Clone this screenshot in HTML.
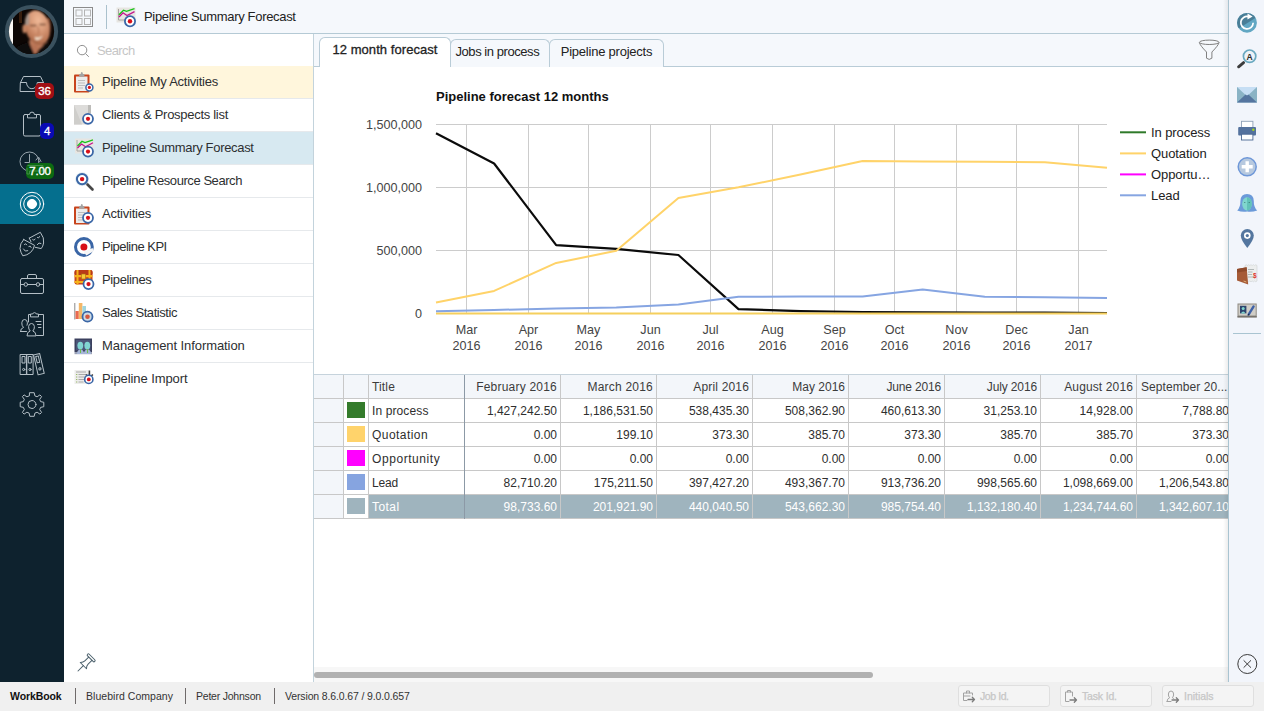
<!DOCTYPE html>
<html lang="en">
<head>
<meta charset="utf-8">
<title>WorkBook - Pipeline Summary Forecast </title>
<style>
*{box-sizing:border-box;margin:0;padding:0}
html,body{width:1264px;height:711px;overflow:hidden;background:#fff}
body{position:relative;font-family:"Liberation Sans",sans-serif;font-size:12.5px;color:#2f3133}
.abs{position:absolute}
/* dark left rail */
#rail{left:0;top:0;width:64px;height:682px;background:#0e222e}
#rail .active{left:0;top:184px;width:64px;height:40px;background:#056f8e}
#rail svg{position:absolute;overflow:visible}
.badge{position:absolute;color:#fff;font-size:11.5px;-webkit-text-stroke:.35px #fff;line-height:15px;height:15px;border-radius:5px;text-align:center;letter-spacing:-.2px}
/* header */
#header{left:64px;top:0;width:1165px;height:34px;background:#f5f8fc;border-bottom:1px solid #b5cad5}
#header .title{left:80px;top:9px;font-size:13px;color:#222;white-space:nowrap;line-height:16px}
/* menu */
#menu{left:64px;top:34px;width:250px;height:648px;background:#fff;border-right:1px solid #c3d3dc}
#menu .search{left:33px;top:9px;color:#c6c6c6;font-size:13px;line-height:16px}
.mi{position:absolute;left:0;width:249px;height:33px;border-bottom:1px solid #e6e9ec;font-size:13px;line-height:16px;color:#2d2f31;white-space:nowrap}
.mi>span{position:absolute;left:38px;top:8px}
.mi svg{position:absolute;left:9px;top:5px}
/* main */
#main{left:314px;top:34px;width:914px;height:648px;background:#fff}
#tabbar{left:0;top:0;width:914px;height:33px;background:#f5f8fc;border-bottom:1px solid #b9ccd7}
.tab{position:absolute;top:5px;height:28px;border:1px solid #b9ccd7;border-bottom:none;border-radius:6px 6px 0 0;background:#f5f8fc;font-size:13px;line-height:16px;text-align:center;white-space:nowrap;color:#222}
.tab.on::after{content:'';position:absolute;left:0;right:0;bottom:-1px;height:1px;background:#fff}
.tab.on{top:3px;height:30px;background:#fff;z-index:2;font-size:13px;-webkit-text-stroke:0.3px #222}
/* table */
#grid{left:0;top:340px;width:914px;height:145px;overflow:hidden;border-top:1px solid #c6d3dc}
#grid .row{position:absolute;left:0;height:24px;width:930px;border-bottom:1px solid #c8c8c8}
#grid .c{position:absolute;top:0;height:23px;border-right:1px solid #c8c8c8;font-size:12px;line-height:25px;white-space:nowrap;overflow:hidden;color:#2e2e2e}
#grid .n{text-align:right;padding-right:3px;width:96px}
#grid .hd .c{background:#f3f6fa;color:#3c3c3c}
#grid .fz{border-right-color:#8c99a6}
#grid .fzl{position:absolute;left:150px;top:0;width:1px;height:144px;background:#8c99a6}
.sw{position:absolute;left:3px;top:3px;width:18px;height:16px}
/* right bar */
#rbar{left:1228px;top:0;width:36px;height:682px;background:#f2f5fb;border-left:1px solid #a9c4d1}
#rsh{left:1223px;top:0;width:5px;height:682px;background:linear-gradient(to right,rgba(0,0,0,0),rgba(0,0,0,.07))}
#rbar svg{position:absolute}
/* status */
#status{left:0;top:682px;width:1264px;height:29px;background:#f0f0f0;font-size:10.5px;color:#333}
#status .t{position:absolute;top:8px;line-height:13px;white-space:nowrap}
#status .sep{position:absolute;top:6px;width:1px;height:16px;background:#6f6a6a}
.inp{position:absolute;top:3px;width:92px;height:22px;border:1px solid #dfdfdf;border-radius:3px;background:#f4f4f4;color:#c6c6c6;font-size:10.5px;line-height:21px;padding-left:21px;-webkit-text-stroke:.25px #c6c6c6}
</style>
</head>
<body>

<!-- LEFT RAIL -->
<div id="rail" class="abs">
  <div class="active abs"></div>
<svg width="64" height="682" viewBox="0 0 64 682" style="left:0;top:0" fill="none" stroke="#b4bfc6" stroke-width="1" stroke-linejoin="round" stroke-linecap="round">
  <!-- avatar -->
  <defs>
    <clipPath id="avc"><circle cx="31.5" cy="31.5" r="22.6"/></clipPath>
    <filter id="bl" x="-20%" y="-20%" width="140%" height="140%"><feGaussianBlur stdDeviation="0.8"/></filter>
    <radialGradient id="skin" cx="0.6" cy="0.3" r="0.8">
      <stop offset="0" stop-color="#efb997"/><stop offset="0.4" stop-color="#d99a78"/><stop offset="0.75" stop-color="#bb7755"/><stop offset="1" stop-color="#8d5239"/>
    </radialGradient>
  </defs>
  <circle cx="31.5" cy="31.5" r="26.6" fill="#3a515e" stroke="none"/>
  <g clip-path="url(#avc)" stroke="none">
    <rect x="5" y="5" width="54" height="54" fill="#0c0604"/>
    <rect x="19" y="9" width="3" height="14" fill="#4a2a12" opacity=".7"/>
    <rect x="8" y="18" width="5" height="26" fill="#fbf9f6"/>
    <g filter="url(#bl)">
      <path d="M29 40 L33 55 L40 54 L45 40 Z" fill="#c07c5c"/>
      <path d="M12 60 L17 47 Q23 43 29 42 L35 55 L38 50 L47 42 Q55 45 57 60 Z" fill="#0b0a0a"/>
      <path d="M30 44 L35 55 L38.5 50 L37.5 45 Z" fill="#b87354"/>
      <ellipse cx="37.6" cy="27.6" rx="12.2" ry="17.6" fill="url(#skin)" transform="rotate(-14 37.6 27.6)"/>
      <ellipse cx="24.4" cy="28.8" rx="2" ry="4.4" fill="#c48462"/>
      <path d="M25 25 Q24.5 17 28.5 12.5 Q30 16 28.8 25 Z" fill="#a69489"/>
      <path d="M30.5 25.6 h5.4 M40 24.6 h5.2" stroke="#70452f" stroke-width="1.5"/>
      <path d="M38 27 Q39.6 32 38.4 34" stroke="#b06d4e" stroke-width="1" fill="none"/>
      <path d="M34.6 36.8 Q38.6 39.3 42.8 35.6 Q40.4 40.8 35.6 39.8 Z" fill="#f8ead6"/>
      <path d="M46.5 18 Q51 25 48.5 38 Q52.5 28 49.5 18Z" fill="#8d5239"/>
    </g>
  </g>
  <!-- inbox -->
  <path d="M20.5 82.5 L23.5 76.5 H40.5 L43.5 82.5 V91.5 H20.5 Z"/>
  <path d="M20.5 82.5 H26.5 A5.4 6.2 0 0 0 37.3 82.5 H43.5"/>
  <!-- clipboard -->
  <rect x="23.5" y="114.5" width="17" height="21.5" rx="1.5"/>
  <path d="M27.5 117.5 V114.5 H29.6 A2.4 2.4 0 0 1 34.4 114.5 H36.5 V117.5 Z" fill="#0e222e"/>
  <!-- clock -->
  <circle cx="29.5" cy="161.5" r="9.5" stroke="#9aa7af"/>
  <path d="M29.5 154.5 V162.5 H25" stroke="#9aa7af"/>
  <path d="M36 160 L38.5 157 L41 161.5" stroke="#9aa7af"/>
  <!-- target (active) -->
  <g stroke="#fff">
    <circle cx="32" cy="204" r="11.7"/>
    <circle cx="32" cy="204" r="8.3"/>
    <circle cx="32" cy="204" r="4.6" fill="#fff"/>
  </g>
  <!-- masks -->
  <path d="M29.3 238.1 L40.3 232.3 Q44.6 238 43.6 243 Q43 246.6 41.2 248.6 L35.2 247.3"/>
  <path d="M29.3 238.1 L31 241.8"/>
  <path d="M32.6 239.6 Q33.8 241.3 35.2 239.2 M37.4 237.6 Q38.8 239 39.6 236.6 M37.3 244.6 Q38.6 241.8 41 243.4"/>
  <path d="M23.7 239.5 L34.5 245.3 Q33.6 249.6 30.6 252.4 Q27 255.4 22.8 255.8 Q20.6 252.4 20 248.6 Q19.8 243.6 23.7 239.5 Z"/>
  <path d="M24.4 244.4 Q25.8 242.6 26.8 244.8 M28.8 246.4 Q30.4 245 31.2 247.4 M23.4 249 Q24.8 252.4 27.8 250.8"/>
  <!-- briefcase -->
  <rect x="20.5" y="278.5" width="23" height="15" rx="1.5"/>
  <path d="M27.5 278.5 V276 Q27.5 274.5 29 274.5 H35 Q36.5 274.5 36.5 276 V278.5"/>
  <path d="M20.5 284.5 H24 M27.6 284.5 H36.2 M39.8 284.5 H43.5"/>
  <circle cx="25.8" cy="284.5" r="1.8"/><circle cx="38" cy="284.5" r="1.8"/>
  <!-- people + clipboard -->
  <path d="M28.5 322 V314.5 H30.5 M38.5 314.5 H43.5 V335.5 H36.5"/>
  <path d="M30.5 316.5 V314 H32.6 A2 2 0 0 1 36.4 314 H38.5 V316.5 Z"/>
  <path d="M36 321.5 H41 M37.5 324.5 H41 M38.5 327.5 H41" />
  <path d="M20.5 331.5 Q20.5 328.2 23.5 327.5 Q21.6 325.6 21.8 322.8 Q22 319.5 24.6 319.5 Q27.2 319.5 27.4 322.8 Q27.5 324 27 325.2 M20.5 331.5 H26.5"/>
  <path d="M27 335.5 Q27 331.8 30.2 331 Q28.4 329.2 28.6 326.6 Q28.8 323.5 31.5 323.5 Q34.2 323.5 34.4 326.6 Q34.6 329.2 32.8 331 Q36 331.8 36 335.5 Z"/>
  <!-- binders -->
  <rect x="20.5" y="354.5" width="6.3" height="20"/>
  <rect x="26.8" y="354.5" width="6.3" height="20"/>
  <rect x="22.4" y="356.5" width="2.6" height="6.5"/><rect x="28.7" y="356.5" width="2.6" height="6.5"/>
  <circle cx="23.7" cy="369.5" r="1.1"/><circle cx="30" cy="369.5" r="1.1"/>
  <g transform="rotate(-13 39 364)">
    <rect x="35.7" y="354" width="6.3" height="20.3"/>
    <rect x="37.5" y="356" width="2.6" height="6.5"/><circle cx="38.8" cy="369" r="1.1"/>
  </g>
  <!-- gear -->
  <g transform="translate(32 404.5)">
    <circle r="4" />
    <path d="M-2.2 -11.8 H2.2 L2.9 -8.6 L5.1 -7.7 L7.9 -9.6 L9.6 -7.9 L7.7 -5.1 L8.6 -2.9 L11.8 -2.2 V2.2 L8.6 2.9 L7.7 5.1 L9.6 7.9 L7.9 9.6 L5.1 7.7 L2.9 8.6 L2.2 11.8 H-2.2 L-2.9 8.6 L-5.1 7.7 L-7.9 9.6 L-9.6 7.9 L-7.7 5.1 L-8.6 2.9 L-11.8 2.2 V-2.2 L-8.6 -2.9 L-7.7 -5.1 L-9.6 -7.9 L-7.9 -9.6 L-5.1 -7.7 L-2.9 -8.6 Z"/>
  </g>
</svg>
<div class="badge" style="left:35px;top:83px;width:19px;height:16px;line-height:16px;background:#a20f14">36</div>
<div class="badge" style="left:40px;top:123px;width:14px;height:16px;line-height:16px;background:#0a0ab4">4</div>
<div class="badge" style="left:26px;top:163px;width:28px;height:16px;line-height:16px;background:#0c6a12">7.00</div>
<svg id="seethru" width="64" height="30" viewBox="0 155 64 30" style="left:0;top:155px;opacity:.28" fill="none" stroke="#cfe6cf" stroke-width="1"><path d="M27.5 165.5 H43 V171 H29.5 V174 H27 V168"/></svg>

</div>

<!-- HEADER -->
<div id="header" class="abs">
  <svg class="abs" style="left:0;top:0" width="1165" height="34" viewBox="64 0 1165 34" fill="none">
  <rect x="73.5" y="7.5" width="19" height="19" stroke="#8b8b8b"/>
  <g stroke="#b3b3b3"><rect x="76" y="10" width="6" height="6"/><rect x="84.5" y="10" width="6" height="6"/><rect x="76" y="18.5" width="6" height="6"/><rect x="84.5" y="18.5" width="6" height="6"/></g>
  <rect x="106" y="5" width="1" height="24" fill="#aac1cd"/>
  <g id="icoChart">
    <rect x="116.5" y="7.5" width="19" height="15" fill="#e7e5e1"/>
    <path d="M118.5 9 V20 H126" stroke="#a8a6a2"/>
    <path d="M119 14.8 L123.5 10.2 L126.5 11.4 L134.5 8.6" stroke="#16c416" stroke-width="1.3"/>
    <path d="M119 17 L123 12.8 L127 15.6 L134.5 11.6" stroke="#c4128c" stroke-width="1.3"/>
    <circle cx="130" cy="21.2" r="5.1" fill="#fff" stroke="#3a66a6" stroke-width="1.8"/>
    <circle cx="130" cy="21.2" r="2.2" fill="#d81018"/>
  </g>
</svg>

  <div class="title abs"><span style="letter-spacing:-0.323px">Pipeline Summary Forecast</span></div>
</div>

<!-- MENU -->
<div id="menu" class="abs">
  <div class="search abs"><span style="letter-spacing:-0.617px">Search</span></div>
  <div class="mi" style="top:32px;background:#fff6dc"><span><span style="letter-spacing:-0.245px">Pipeline My Activities</span></span></div>
  <div class="mi" style="top:65px"><span><span style="letter-spacing:-0.289px">Clients &amp; Prospects list</span></span></div>
  <div class="mi" style="top:98px;background:#d7e9f1"><span><span style="letter-spacing:-0.323px">Pipeline Summary Forecast</span></span></div>
  <div class="mi" style="top:131px"><span><span style="letter-spacing:-0.43px">Pipeline Resource Search</span></span></div>
  <div class="mi" style="top:164px"><span><span style="letter-spacing:-0.23px">Activities</span></span></div>
  <div class="mi" style="top:197px"><span><span style="letter-spacing:-0.511px">Pipeline KPI</span></span></div>
  <div class="mi" style="top:230px"><span><span style="letter-spacing:-0.363px">Pipelines</span></span></div>
  <div class="mi" style="top:263px"><span><span style="letter-spacing:-0.444px">Sales Statistic</span></span></div>
  <div class="mi" style="top:296px"><span><span style="letter-spacing:-0.083px">Management Information</span></span></div>
  <div class="mi" style="top:329px;border-bottom:none"><span><span style="letter-spacing:-0.081px">Pipeline Import</span></span></div>
  <svg class="abs" style="left:0;top:0" width="250" height="648" viewBox="64 34 250 648" fill="none">
  <defs>
    <g id="tg"><circle r="5" fill="#fff" stroke="#3a66a6" stroke-width="1.8"/><circle r="2.1" fill="#d81018"/></g>
    <g id="tgs"><circle r="3.5" fill="#fff" stroke="#3a66a6" stroke-width="1.5"/><circle r="1.6" fill="#d81018"/></g>
    <g id="clipb">
      <rect x="74" y="8.5" width="15.5" height="18" rx="1" fill="#c8441c"/>
      <rect x="76" y="10.5" width="11.5" height="14.5" fill="#ececec"/>
      <path d="M78 14.5 h7 M78 17 h7 M78 19.5 h7 M78 22 h5" stroke="#bdbdbd"/>
      <path d="M79.2 10.8 V8 H80.8 V7 Q81.8 5.2 82.8 7 V8 H84.4 V10.8 Z" fill="#a3a3a3"/>
    </g>
  </defs>
  <!-- search -->
  <circle cx="82.1" cy="50.1" r="4.7" stroke="#8f8f8f"/>
  <path d="M85.5 53.6 L88.8 56.8" stroke="#8f8f8f"/>
  <!-- 1 my activities (row top 66) -->
  <use href="#clipb" y="66"/>
  <use href="#tgs" x="89.4" y="87.4"/>
  <!-- 2 clients (99) -->
  <path d="M74 105 H91 V119 L86 124.5 H74 Z" fill="#dddcda"/>
  <path d="M74 105 L82 124.5 H74 Z" fill="#cfcecb"/>
  <path d="M88 105 H91 V113 H88 Z" fill="#bdbcb9"/>
  <use href="#tg" x="88" y="118.8"/>
  <!-- 3 summary forecast (132) -->
  <rect x="75" y="138.5" width="18.5" height="15" fill="#e7e5e1"/>
  <path d="M77 140 V151 H84" stroke="#a8a6a2"/>
  <path d="M77.5 146 L82 141.3 L85 142.5 L93 139.8" stroke="#16c416" stroke-width="1.3"/>
  <path d="M77.5 148 L81.5 144 L85.5 146.8 L93 142.8" stroke="#c4128c" stroke-width="1.3"/>
  <use href="#tg" x="88" y="151.6"/>
  <!-- 4 resource search (165) -->
  <path d="M86.5 183.5 L92.5 189.5" stroke="#474747" stroke-width="2.6" stroke-linecap="round"/>
  <circle cx="82.1" cy="179.1" r="6.9" fill="#cfe0ea" opacity=".7"/>
  <circle cx="82.1" cy="179.1" r="5.2" fill="#fff" stroke="#3a66a6" stroke-width="2"/>
  <circle cx="82.1" cy="179.1" r="2.2" fill="#d81018"/>
  <!-- 5 activities (198) -->
  <use href="#clipb" y="198"/>
  <use href="#tg" x="88" y="217.8"/>
  <!-- 6 KPI (231) -->
  <circle cx="83.9" cy="247" r="8.4" fill="#fff" stroke="#3a66a6" stroke-width="3"/>
  <circle cx="83.9" cy="247" r="3.5" fill="#d81018"/>
  <path d="M83.6 251.8 L92.6 248 L93.6 251.2 L86.4 255.4 Z" fill="#f6f6f6"/>
  <!-- 7 pipelines (264) -->
  <rect x="74.5" y="270" width="18" height="14.5" rx="2" fill="#c9461c"/>
  <rect x="74.5" y="270" width="18" height="5.5" rx="2" fill="#b93a18"/>
  <rect x="74.5" y="275" width="18" height="2.2" fill="#f5b21a"/>
  <rect x="76.5" y="270" width="2" height="14.5" fill="#f5b21a"/><rect x="88.5" y="270" width="2" height="14.5" fill="#f5b21a"/>
  <rect x="74.5" y="281" width="18" height="2" fill="#f5b21a"/>
  <rect x="81.5" y="274" width="4" height="5" fill="#f7c93a" stroke="#a8700c" stroke-width=".6"/>
  <use href="#tg" x="88.5" y="284.1"/>
  <!-- 8 sales stat (297) -->
  <rect x="74.3" y="303" width="1" height="16.5" fill="#8a8a8a"/>
  <rect x="75.5" y="311" width="3.3" height="8" fill="#ea6a50"/>
  <rect x="78.8" y="303" width="3.6" height="16" fill="#f4b768"/>
  <rect x="82.4" y="306" width="3.6" height="13" fill="#9fd5de"/>
  <circle cx="87.5" cy="316.7" r="5" fill="#cfdbe4" stroke="#3a66a6" stroke-width="1.8"/>
  <circle cx="87.5" cy="316.7" r="2.3" fill="#d2573f"/>
  <!-- 9 management info (330) -->
  <rect x="74.5" y="338.5" width="17.5" height="13.5" fill="#3b405e"/>
  <rect x="76" y="340" width="14.5" height="10" fill="#4b5578"/>
  <rect x="74.5" y="352" width="17.5" height="2.2" fill="#9aa0b4"/>
  <ellipse cx="80.3" cy="345.6" rx="2.9" ry="3.9" fill="#80d4d2"/><ellipse cx="87.3" cy="345.6" rx="2.9" ry="3.9" fill="#80d4d2"/>
  <path d="M77 354 Q77 349.5 80.5 349.5 Q84 349.5 84 354 Z M84 354 Q84 349.5 87.5 349.5 Q91 349.5 91 354 Z" fill="#a5b6d8"/>
  <path d="M80 349 h1 v4 h-1z M87 349 h1 v4 h-1z" fill="#6dbf4b"/>
  <!-- 10 import (363) -->
  <rect x="74.5" y="370" width="14" height="14" fill="#ededeb"/>
  <path d="M76 372 h10 M78.5 374.5 h7.5 M78.5 377 h7.5 M78.5 379.5 h7.5 M78.5 382 h5" stroke="#a9a9a9"/>
  <path d="M76 374.5 h1.3 M76 377 h1.3 M76 379.5 h1.3 M76 382 h1.3" stroke="#9ab86a"/>
  <path d="M89.4 370.5 V378 M86 374.5 L89.4 378 L92.8 374.5" stroke="#3c3c3c" stroke-width="1.6"/>
  <circle cx="88.8" cy="379.4" r="4.1" fill="#fff" stroke="#3a66a6" stroke-width="1.6"/><circle cx="88.8" cy="379.4" r="1.9" fill="#d81018"/>
  <!-- pin -->
  <g transform="translate(78 671) rotate(-45)" stroke="#4a5f6b" stroke-width="1" stroke-linecap="round" stroke-linejoin="round">
    <path d="M0 0 H7.6"/>
    <path d="M7.6 -4.4 V4.4 Q9.6 2.3 12 2.3 H17.4 M7.6 -4.4 Q9.6 -2.3 12 -2.3 H17.4"/>
    <rect x="17.4" y="-5.1" width="2.4" height="10.2" rx="1.2"/>
  </g>
</svg>

</div>

<!-- MAIN -->
<div id="main" class="abs">
  <div id="tabbar" class="abs">
    <svg class="abs" id="funnel" style="left:880px;top:4px" width="30" height="26" viewBox="1194 38 30 26" fill="none" stroke="#808080" stroke-width="1" stroke-linejoin="round"><ellipse cx="1209.2" cy="42.3" rx="9.8" ry="2.2"/><path d="M1199.4 42.6 Q1200 45.4 1206.5 52 V58.2 Q1209.2 60.6 1211.9 58.2 V52 Q1218.4 45.4 1219 42.6"/></svg>
    <div class="tab on" style="left:5px;width:132px;padding-top:4px"><span style="letter-spacing:0.061px">12 month forecast</span></div>
    <div class="tab" style="left:136px;width:100px;padding-top:4px;text-align:left;padding-left:4.5px"><span style="letter-spacing:-0.442px">Jobs in process</span></div>
    <div class="tab" style="left:235px;width:115px;padding-top:4px"><span style="letter-spacing:-0.223px">Pipeline projects</span></div>
  </div>
  <div id="chart" class="abs" style="left:0;top:36px;width:914px;height:305px"><svg width="914" height="305" viewBox="0 0 914 305" style="position:absolute;left:0;top:0;font-family:'Liberation Sans',Arial,sans-serif">
<text x="122" y="31" font-size="13" font-weight="bold" fill="#111">Pipeline forecast 12 months</text>
<rect x="122" y="243" width="671" height="1" fill="#ccc"/>
<text x="108" y="247.8" font-size="12.6" fill="#444" text-anchor="end">0</text>
<rect x="122" y="180" width="671" height="1" fill="#ccc"/>
<text x="108" y="184.8" font-size="12.6" fill="#444" text-anchor="end">500,000</text>
<rect x="122" y="117" width="671" height="1" fill="#ccc"/>
<text x="108" y="121.8" font-size="12.6" fill="#444" text-anchor="end">1,000,000</text>
<rect x="122" y="54" width="671" height="1" fill="#ccc"/>
<text x="108" y="58.8" font-size="12.6" fill="#444" text-anchor="end">1,500,000</text>
<rect x="152" y="54" width="1" height="189" fill="#ccc"/>
<text x="152.5" y="263.6" font-size="12.6" fill="#444" text-anchor="middle">Mar</text>
<text x="152.5" y="279.7" font-size="12.6" fill="#444" text-anchor="middle">2016</text>
<rect x="214" y="54" width="1" height="189" fill="#ccc"/>
<text x="214.5" y="263.6" font-size="12.6" fill="#444" text-anchor="middle">Apr</text>
<text x="214.5" y="279.7" font-size="12.6" fill="#444" text-anchor="middle">2016</text>
<rect x="274" y="54" width="1" height="189" fill="#ccc"/>
<text x="274.5" y="263.6" font-size="12.6" fill="#444" text-anchor="middle">May</text>
<text x="274.5" y="279.7" font-size="12.6" fill="#444" text-anchor="middle">2016</text>
<rect x="336" y="54" width="1" height="189" fill="#ccc"/>
<text x="336.5" y="263.6" font-size="12.6" fill="#444" text-anchor="middle">Jun</text>
<text x="336.5" y="279.7" font-size="12.6" fill="#444" text-anchor="middle">2016</text>
<rect x="396" y="54" width="1" height="189" fill="#ccc"/>
<text x="396.5" y="263.6" font-size="12.6" fill="#444" text-anchor="middle">Jul</text>
<text x="396.5" y="279.7" font-size="12.6" fill="#444" text-anchor="middle">2016</text>
<rect x="458" y="54" width="1" height="189" fill="#ccc"/>
<text x="458.5" y="263.6" font-size="12.6" fill="#444" text-anchor="middle">Aug</text>
<text x="458.5" y="279.7" font-size="12.6" fill="#444" text-anchor="middle">2016</text>
<rect x="520" y="54" width="1" height="189" fill="#ccc"/>
<text x="520.5" y="263.6" font-size="12.6" fill="#444" text-anchor="middle">Sep</text>
<text x="520.5" y="279.7" font-size="12.6" fill="#444" text-anchor="middle">2016</text>
<rect x="580" y="54" width="1" height="189" fill="#ccc"/>
<text x="580.5" y="263.6" font-size="12.6" fill="#444" text-anchor="middle">Oct</text>
<text x="580.5" y="279.7" font-size="12.6" fill="#444" text-anchor="middle">2016</text>
<rect x="642" y="54" width="1" height="189" fill="#ccc"/>
<text x="642.5" y="263.6" font-size="12.6" fill="#444" text-anchor="middle">Nov</text>
<text x="642.5" y="279.7" font-size="12.6" fill="#444" text-anchor="middle">2016</text>
<rect x="702" y="54" width="1" height="189" fill="#ccc"/>
<text x="702.5" y="263.6" font-size="12.6" fill="#444" text-anchor="middle">Dec</text>
<text x="702.5" y="279.7" font-size="12.6" fill="#444" text-anchor="middle">2016</text>
<rect x="764" y="54" width="1" height="189" fill="#ccc"/>
<text x="764.5" y="263.6" font-size="12.6" fill="#444" text-anchor="middle">Jan</text>
<text x="764.5" y="279.7" font-size="12.6" fill="#444" text-anchor="middle">2017</text>
<polyline points="122.0,63.2 180.1,93.5 242.2,175.2 302.3,178.9 364.4,185.0 424.5,239.1 486.5,241.1 548.6,242.0 608.7,242.4 670.8,242.6 730.9,242.7 793.0,243.0" fill="none" stroke="#0b0b0b" stroke-width="2.2" stroke-linejoin="round"/>
<polyline points="122.0,232.6 180.1,220.9 242.2,192.9 302.3,180.8 364.4,127.9 424.5,117.2 486.5,104.6 548.6,91.0 608.7,91.4 670.8,91.8 730.9,92.3 793.0,97.8" fill="none" stroke="#ffd369" stroke-width="2" stroke-linejoin="round"/>
<polyline points="122.0,243.5 180.1,243.5 242.2,243.5 302.3,243.5 364.4,243.5 424.5,243.5 486.5,243.5 548.6,243.5 608.7,243.5 670.8,243.5 730.9,243.5 793.0,243.5" fill="none" stroke="#f5cf5d" stroke-width="2" stroke-linejoin="round"/>
<polyline points="122.0,241.2 180.1,240.0 242.2,238.4 302.3,237.4 364.4,234.4 424.5,226.8 486.5,226.5 548.6,226.4 608.7,219.6 670.8,226.7 730.9,227.3 793.0,227.9" fill="none" stroke="#86a5e2" stroke-width="2" stroke-linejoin="round"/>
<rect x="806" y="61.3" width="26" height="2" fill="#2f7a2a"/>
<text x="837" y="66.7" font-size="13" letter-spacing="-0.08" fill="#222">In process</text>
<rect x="806" y="82.4" width="26" height="2" fill="#ffd369"/>
<text x="837" y="87.8" font-size="13" letter-spacing="-0.08" fill="#222">Quotation</text>
<rect x="806" y="103.4" width="26" height="2" fill="#ff00ff"/>
<text x="837" y="108.8" font-size="13" letter-spacing="-0.08" fill="#222">Opportu…</text>
<rect x="806" y="124.3" width="26" height="2" fill="#86a5e2"/>
<text x="837" y="129.7" font-size="13" letter-spacing="-0.08" fill="#222">Lead</text>
</svg></div>
  <div id="grid" class="abs"><div class="row hd" style="top:0px;"><div class="c" style="left:0;width:30px"></div><div class="c" style="left:30px;width:25px"></div><div class="c fz" style="left:55px;width:96px;padding-left:3px"><span style="letter-spacing:0.153px">Title</span></div><div class="c n" style="left:151px;"><span style="letter-spacing:0.212px">February 2016</span></div><div class="c n" style="left:247px;"><span style="letter-spacing:0.212px">March 2016</span></div><div class="c n" style="left:343px;"><span style="letter-spacing:0.165px">April 2016</span></div><div class="c n" style="left:439px;"><span style="letter-spacing:0.012px">May 2016</span></div><div class="c n" style="left:535px;"><span style="letter-spacing:-0.162px">June 2016</span></div><div class="c n" style="left:631px;"><span style="letter-spacing:-0.131px">July 2016</span></div><div class="c n" style="left:727px;"><span style="letter-spacing:0.128px">August 2016</span></div><div class="c n" style="left:823px;text-align:left;padding-left:4px;padding-right:0;"><span style="letter-spacing:0.074px">September 20...</span></div></div>
<div class="row " style="top:24px;"><div class="c" style="left:0;width:30px;background:#f3f6fa"></div><div class="c" style="left:30px;width:25px;"><div class="sw" style="background:#347b2b;"></div></div><div class="c fz" style="left:55px;width:96px;padding-left:3px;"><span style="letter-spacing:0.114px">In process</span></div><div class="c n" style="left:151px;">1,427,242.50</div><div class="c n" style="left:247px;">1,186,531.50</div><div class="c n" style="left:343px;">538,435.30</div><div class="c n" style="left:439px;">508,362.90</div><div class="c n" style="left:535px;">460,613.30</div><div class="c n" style="left:631px;">31,253.10</div><div class="c n" style="left:727px;">14,928.00</div><div class="c n" style="left:823px;">7,788.80</div></div>
<div class="row " style="top:48px;"><div class="c" style="left:0;width:30px;background:#f3f6fa"></div><div class="c" style="left:30px;width:25px;"><div class="sw" style="background:#ffd36b;"></div></div><div class="c fz" style="left:55px;width:96px;padding-left:3px;"><span style="letter-spacing:0.439px">Quotation</span></div><div class="c n" style="left:151px;">0.00</div><div class="c n" style="left:247px;">199.10</div><div class="c n" style="left:343px;">373.30</div><div class="c n" style="left:439px;">385.70</div><div class="c n" style="left:535px;">373.30</div><div class="c n" style="left:631px;">385.70</div><div class="c n" style="left:727px;">385.70</div><div class="c n" style="left:823px;">373.30</div></div>
<div class="row " style="top:72px;"><div class="c" style="left:0;width:30px;background:#f3f6fa"></div><div class="c" style="left:30px;width:25px;"><div class="sw" style="background:#ff00ff;"></div></div><div class="c fz" style="left:55px;width:96px;padding-left:3px;"><span style="letter-spacing:0.568px">Opportunity</span></div><div class="c n" style="left:151px;">0.00</div><div class="c n" style="left:247px;">0.00</div><div class="c n" style="left:343px;">0.00</div><div class="c n" style="left:439px;">0.00</div><div class="c n" style="left:535px;">0.00</div><div class="c n" style="left:631px;">0.00</div><div class="c n" style="left:727px;">0.00</div><div class="c n" style="left:823px;">0.00</div></div>
<div class="row " style="top:96px;"><div class="c" style="left:0;width:30px;background:#f3f6fa"></div><div class="c" style="left:30px;width:25px;"><div class="sw" style="background:#86a4e0;"></div></div><div class="c fz" style="left:55px;width:96px;padding-left:3px;"><span style="letter-spacing:-0.176px">Lead</span></div><div class="c n" style="left:151px;">82,710.20</div><div class="c n" style="left:247px;">175,211.50</div><div class="c n" style="left:343px;">397,427.20</div><div class="c n" style="left:439px;">493,367.70</div><div class="c n" style="left:535px;">913,736.20</div><div class="c n" style="left:631px;">998,565.60</div><div class="c n" style="left:727px;">1,098,669.00</div><div class="c n" style="left:823px;">1,206,543.80</div></div>
<div class="row " style="top:120px;"><div class="c" style="left:0;width:30px;background:#f3f6fa"></div><div class="c" style="left:30px;width:25px;"><div class="sw" style="background:#9fb4be;"></div></div><div class="c fz" style="left:55px;width:96px;padding-left:3px;background:#9fb4be;color:#fff;"><span style="letter-spacing:0.428px">Total</span></div><div class="c n" style="left:151px;background:#9fb4be;color:#fff;">98,733.60</div><div class="c n" style="left:247px;background:#9fb4be;color:#fff;">201,921.90</div><div class="c n" style="left:343px;background:#9fb4be;color:#fff;">440,040.50</div><div class="c n" style="left:439px;background:#9fb4be;color:#fff;">543,662.30</div><div class="c n" style="left:535px;background:#9fb4be;color:#fff;">985,754.40</div><div class="c n" style="left:631px;background:#9fb4be;color:#fff;">1,132,180.40</div><div class="c n" style="left:727px;background:#9fb4be;color:#fff;">1,234,744.60</div><div class="c n" style="left:823px;background:#9fb4be;color:#fff;">1,342,607.10</div></div><div class="fzl"></div></div>
  <div class="abs" style="left:0;top:633px;width:914px;height:15px;background:#f7f7f7"></div>
  <div class="abs" style="left:0;top:638px;width:559px;height:6px;border-radius:3px;background:#b1b1b1"></div>
</div>

<!-- RIGHT BAR -->
<div id="rsh" class="abs"></div>
<div id="rbar" class="abs"><svg class="abs" style="left:-1px;top:0" width="36" height="682" viewBox="1228 0 36 682" fill="none">
  <defs>
    <clipPath id="rfc"><circle cx="1247" cy="22.8" r="9.9"/></clipPath>
  </defs>
  <!-- refresh -->
  <g clip-path="url(#rfc)">
    <rect x="1236" y="12" width="22" height="22" fill="#62a7c3"/>
    <path d="M1236 12 H1258 V16.5 L1236 30 Z" fill="#4a7e97"/>
  </g>
  <path d="M1248.5 16.6 A6.2 6.2 0 1 0 1253.2 22.8" stroke="#fff" stroke-width="1.7"/>
  <path d="M1247.5 13.6 L1252.6 16.4 L1247.5 19.4 Z" fill="#fff"/>
  <!-- search A -->
  <path d="M1243.6 62.6 L1238.6 66.8" stroke="#3c3c3c" stroke-width="2.9" stroke-linecap="round"/>
  <circle cx="1249.6" cy="56.2" r="6.2" fill="#eef3f8" stroke="#6aa9c0" stroke-width="1.7"/>
  <text x="1249.6" y="59.5" font-family="'Liberation Sans',sans-serif" font-size="8.5" font-weight="bold" fill="#2a2a2a" text-anchor="middle">A</text>
  <!-- mail -->
  <rect x="1237" y="87" width="20" height="15.6" fill="#8ab3c5"/>
  <path d="M1237 87 H1257 L1247 96.2 Z" fill="#c6def4"/>
  <path d="M1237 102.6 L1245.6 94.4 L1247 95.6 L1248.4 94.4 L1257 102.6 Z" fill="#55759f"/>
  <!-- printer -->
  <rect x="1241.5" y="121.3" width="11.4" height="6.5" fill="#fff" stroke="#8fa1b8" stroke-width=".9"/>
  <rect x="1238.2" y="127" width="17.8" height="8.6" rx="1" fill="#54729e"/>
  <rect x="1241.5" y="134.2" width="11.4" height="5.8" fill="#fff" stroke="#4b6893" stroke-width=".9"/>
  <circle cx="1253.3" cy="129.7" r="1.2" fill="#a5d81c"/>
  <!-- plus -->
  <circle cx="1247.2" cy="166.8" r="9" fill="#b7c9df" stroke="#6e97d8" stroke-width="1.5"/>
  <path d="M1247.2 161.3 V172.3 M1241.7 166.8 H1252.7" stroke="#fff" stroke-width="3.4"/>
  <!-- person -->
  <path d="M1237.2 210.6 Q1240.6 207 1240.4 201 Q1240.6 194 1247 194 Q1253.6 194 1253.8 201 Q1253.6 207 1257.2 210.6 Q1252 212.4 1247.2 211.6 Q1242 212.4 1237.2 210.6 Z" fill="#6b9ad9"/>
  <ellipse cx="1247" cy="203.8" rx="4.9" ry="6.6" fill="#80d6cd"/>
  <path d="M1247 197.2 A4.9 6.6 0 0 1 1247 210.4 Z" fill="#62c2b8"/>
  <circle cx="1244.8" cy="202.5" r=".6" fill="#35706c"/><circle cx="1249.2" cy="202.5" r=".6" fill="#35706c"/>
  <!-- pin -->
  <path d="M1247.3 248 Q1240.8 240 1240.8 235.6 A6.5 6.5 0 0 1 1253.8 235.6 Q1253.8 240 1247.3 248 Z" fill="#54769f"/>
  <circle cx="1247.3" cy="235.6" r="3.3" fill="#fff"/><circle cx="1247.3" cy="235.6" r="1.6" fill="#54769f"/>
  <!-- wallet + receipt -->
  <path d="M1245 265.5 l1.2 -.8 l1.2 .8 l1.2 -.8 l1.2 .8 l1.2 -.8 l1.2 .8 l1.2 -.8 l1.2 .8 l1.2 -.8 l1.2 .8 V281 l-1.2 .8 l-1.2 -.8 l-1.2 .8 l-1.2 -.8 l-1.2 .8 l-1.2 -.8 l-1.2 .8 l-1.2 -.8 l-1.2 .8 l-1.2 -.8 Z" fill="#eceeee" stroke="#c6caca" stroke-width=".5"/>
  <path d="M1248 269.5 h6 M1248 272 h4.5 M1248 274.5 h4 M1248 277 h6" stroke="#a9b0b0" stroke-width=".9"/>
  <text x="1254.7" y="277.5" font-family="'Liberation Sans',sans-serif" font-size="6.5" font-weight="bold" fill="#e0342c" text-anchor="middle">$</text>
  <path d="M1237 269 L1246.6 267.2 L1248.2 284.6 L1237 280.4 Z" fill="#a65b37"/>
  <path d="M1237 269 L1246.6 267.2 L1247 271 L1237 272.6 Z" fill="#8f4a2b"/>
  <path d="M1243.6 281 l2.8 1" stroke="#e2b27a" stroke-width="1"/>
  <!-- id card -->
  <rect x="1238" y="304" width="18.2" height="12" fill="#d0cdc7" stroke="#8d8982" stroke-width="1"/>
  <rect x="1237.4" y="316" width="19.4" height="1.6" fill="#77736d"/>
  <rect x="1240" y="305.8" width="6.4" height="7.6" fill="#2e456e"/>
  <circle cx="1243.2" cy="308.6" r="1.5" fill="#7fd4cc"/><path d="M1240.8 313.4 Q1243.2 309.6 1245.6 313.4 Z" fill="#7fd4cc"/>
  <path d="M1253.6 306.4 L1248.6 314.6" stroke="#3f62a8" stroke-width="2.4" stroke-linecap="round"/>
  <path d="M1248.2 315.4 l.9 -1.6" stroke="#222" stroke-width="1"/>
  <!-- separator -->
  <rect x="1233" y="333" width="28" height="1" fill="#a9c4d1"/>
  <!-- close -->
  <circle cx="1247.3" cy="664" r="9.5" stroke="#3b3b3b" stroke-width="1"/>
  <path d="M1243.6 660.3 L1251 667.7 M1251 660.3 L1243.6 667.7" stroke="#3b3b3b" stroke-width="1"/>
</svg>
</div>

<!-- STATUS BAR -->
<div id="status" class="abs">
  <div class="t" style="left:10px;font-weight:bold;color:#111"><span style="letter-spacing:-0.089px">WorkBook</span></div>
  <div class="sep" style="left:75px"></div>
  <div class="t" style="left:86px"><span style="letter-spacing:0.038px">Bluebird Company</span></div>
  <div class="sep" style="left:185px"></div>
  <div class="t" style="left:196px"><span style="letter-spacing:-0.217px">Peter Johnson</span></div>
  <div class="sep" style="left:274px"></div>
  <div class="t" style="left:285px"><span style="letter-spacing:-0.137px">Version 8.6.0.67 / 9.0.0.657</span></div>
  <div class="inp" style="left:958px"><span style="letter-spacing:-0.419px">Job Id.</span></div>
  <div class="inp" style="left:1060px"><span style="letter-spacing:-0.173px">Task Id.</span></div>
  <div class="inp" style="left:1162px"><span style="letter-spacing:-0.021px">Initials</span></div>
  <svg class="abs" style="left:950px;top:0" width="314" height="29" viewBox="950 682 314 29" fill="none" stroke="#a2a2a2" stroke-width="1" stroke-linejoin="round" stroke-linecap="round">
  <!-- briefcase arrow -->
  <path d="M972.5 695 V693 H963.5 V700.5 H967"/><path d="M966.5 693 V691 H969.5 V693"/><path d="M963.5 696 H970"/>
  <path d="M968 699.5 H974.5 M972.3 697.3 L974.5 699.5 L972.3 701.7" stroke="#7c7c7c" stroke-width="1.3"/>
  <!-- clipboard arrow -->
  <path d="M1072.5 696 V692 H1065.5 V701.5 H1069"/><path d="M1067.5 692 V690.5 H1070.5 V692"/>
  <path d="M1070 700 H1076.5 M1074.3 697.8 L1076.5 700 L1074.3 702.2" stroke="#7c7c7c" stroke-width="1.3"/>
  <!-- person arrow -->
  <path d="M1167 701.5 Q1167 698.6 1169.6 697.8 Q1168.2 696.2 1168.4 694 Q1168.6 691 1171 691 Q1173.4 691 1173.6 694 Q1173.8 696.2 1172.4 697.8 Q1173.6 698.2 1174.2 699 M1167 701.5 H1171"/>
  <path d="M1172 700 H1178.5 M1176.3 697.8 L1178.5 700 L1176.3 702.2" stroke="#7c7c7c" stroke-width="1.3"/>
</svg>

</div>

</body>
</html>
